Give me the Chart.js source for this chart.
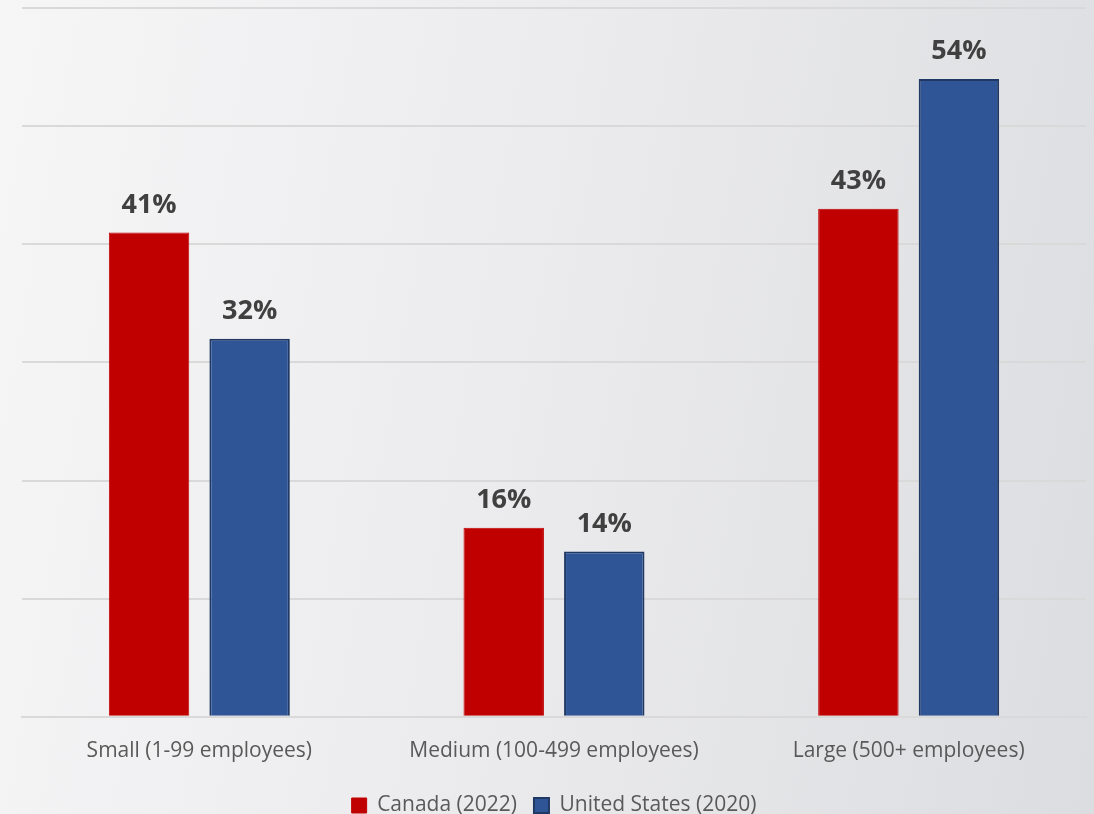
<!DOCTYPE html>
<html>
<head>
<meta charset="utf-8">
<script src="https://cdn.jsdelivr.net/npm/chart.js@4"></script>
<style>
  html, body { margin: 0; padding: 0; }
  body {
    width: 1094px; height: 814px; overflow: hidden;
    background: linear-gradient(100deg, #f6f6f7 0%, #ececee 45%, #dcdde0 100%);
  }
  #wrap { position: relative; width: 1094px; height: 814px; }
</style>
</head>
<body>
<div id="wrap"><canvas id="myChart" width="1094" height="814"></canvas></div>
<script>
// chart data
const categories = ["Small (1-99 employees)", "Medium (100-499 employees)", "Large (500+ employees)"]
const canada = [41, 16, 43]
const unitedStates = [32, 14, 54]
const seriesNames = ["Canada (2022)", "United States (2020)"]

// draw the % labels above each bar
const barLabels = {
    id: 'barLabels',
    afterDatasetsDraw(chart) {
        let ctx = chart.ctx
        ctx.save()
        ctx.font = "bold 27px 'Open Sans'"
        ctx.fillStyle = "#404040"
        ctx.textAlign = "center"
        ctx.textBaseline = "bottom"
        chart.data.datasets.forEach((ds, i) => {
            chart.getDatasetMeta(i).data.forEach((bar, j) => {
                ctx.fillText(ds.data[j] + "%", bar.x, bar.y - 14)
            })
        })
        ctx.restore()
    }
}

const ctx = document.getElementById('myChart')

new Chart(ctx, {
    type: 'bar',
    data: {
        labels: categories,
        datasets: [{
            label: seriesNames[0],
            data: canada,
            backgroundColor: "#c00000",
            borderColor: "#c00000",
            borderWidth: 1,
            barPercentage: 0.8,
            categoryPercentage: 0.567
        }, {
            label: seriesNames[1],
            data: unitedStates,
            backgroundColor: "#2f5597",
            borderColor: "#1f3864",
            borderWidth: 2,
            barPercentage: 0.8,
            categoryPercentage: 0.567
        }]
    },
    options: {
        responsive: false,
        animation: false,
        layout: { padding: { left: 22, right: 8, top: 8, bottom: -12 } },
        plugins: {
            tooltip: { enabled: false },
            legend: {
                position: 'bottom',
                labels: {
                    font: { family: "'Open Sans'", size: 21 },
                    color: "#595959",
                    boxWidth: 15,
                    boxHeight: 15,
                    padding: 17,
                    useBorderRadius: false
                }
            }
        },
        scales: {
            x: {
                grid: { display: false },
                border: { display: true, color: "#d9d9d9", width: 2 },
                ticks: {
                    font: { family: "'Open Sans'", size: 21 },
                    color: "#595959",
                    padding: 14,
                    maxRotation: 0
                }
            },
            y: {
                min: 0,
                max: 60,
                ticks: { stepSize: 10, display: false },
                border: { display: false },
                grid: { color: "#d9d9d9", lineWidth: 2, drawTicks: false }
            }
        }
    },
    plugins: [barLabels]
})
</script>
</body>
</html>
